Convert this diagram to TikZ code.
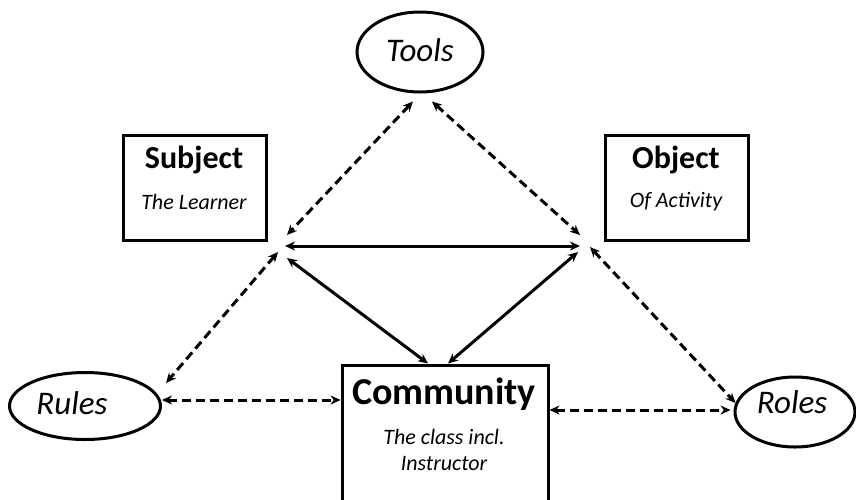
\documentclass[tikz,border=0pt]{standalone}
\usepackage{fontspec}
\setmainfont{Carlito}
\usetikzlibrary{arrows.meta,shapes.geometric}

\begin{document}
\begin{tikzpicture}[x=1pt,y=-1pt,
  frame/.style={draw, line width=3pt, inner sep=0pt},
  oval/.style={draw, ellipse, line width=3pt, inner sep=0pt},
  head/.style={font=\fontsize{32}{35}\selectfont\bfseries},
  bighead/.style={font=\fontsize{38}{41}\selectfont\bfseries},
  sub/.style={font=\fontsize{22}{26}\selectfont\itshape},
  ovaltext/.style={font=\fontsize{33}{36}\selectfont\itshape},
  link/.style={line width=3pt, {Stealth[length=10pt,width=9pt]}-{Stealth[length=10pt,width=9pt]}},
  dlink/.style={link, dash pattern=on 9pt off 5pt}]
\useasboundingbox (0,0) rectangle (856,499);
\clip (0,0) rectangle (856,499);

% rectangles
\node[frame, minimum width=143pt, minimum height=105pt] (subject) at (194.5,187.5) {};
\node[frame, minimum width=143pt, minimum height=105pt] (object) at (676.5,187.5) {};
\node[frame, minimum width=206pt, minimum height=160pt] (community) at (445,445) {};

% ellipses
\node[oval, minimum width=126pt, minimum height=80pt] (tools) at (420,52) {};
\node[oval, minimum width=151pt, minimum height=67pt] (rules) at (85,406) {};
\node[oval, minimum width=120pt, minimum height=70pt] (roles) at (795,412) {};

% texts
\node[head] (subjectt) at (194,160) {Subject};
\node[sub] (subjects) at (194,202) {The Learner};
\node[head] (objectt) at (676,160) {Object};
\node[sub] (objects) at (676,202) {Of Activity};
\node[bighead] (communityt) at (444,394) {Community};
\node[sub] (communitys1) at (444,437) {The class incl.};
\node[sub] (communitys2) at (444,464) {Instructor};
\node[ovaltext] (toolst) at (420,50) {Tools};
\node[ovaltext] (rulest) at (72,403) {Rules};
\node[ovaltext] (rolest) at (792,402) {Roles};

% triangle corners
\coordinate (L) at (283,246);
\coordinate (R) at (583,246);

% connectors
\draw[dlink] ([shift={(-7,8)}]tools.south) -- ([shift={(4,-11)}]L);
\draw[dlink] ([shift={(12,8)}]tools.south) -- ([shift={(-3,-11)}]R);
\draw[link] ([xshift=2pt]L) -- ([xshift=-3pt]R);
\draw[link] ([shift={(4,12)}]L) -- ([xshift=-17pt]community.north);
\draw[link] ([shift={(-5,6)}]R) -- ([xshift=3pt]community.north);
\draw[dlink] ([shift={(-5,6)}]L) -- ([shift={(4,-23)}]rules.east);
\draw[dlink] ([shift={(7,1)}]R) -- ([shift={(2,-9)}]roles.west);
\draw[dlink] ([yshift=6pt]rules.east) -- ([yshift=45pt]community.west);
\draw[dlink] ([yshift=35pt]community.east) -- ([shift={(-3,-2)}]roles.west);
\end{tikzpicture}
\end{document}
